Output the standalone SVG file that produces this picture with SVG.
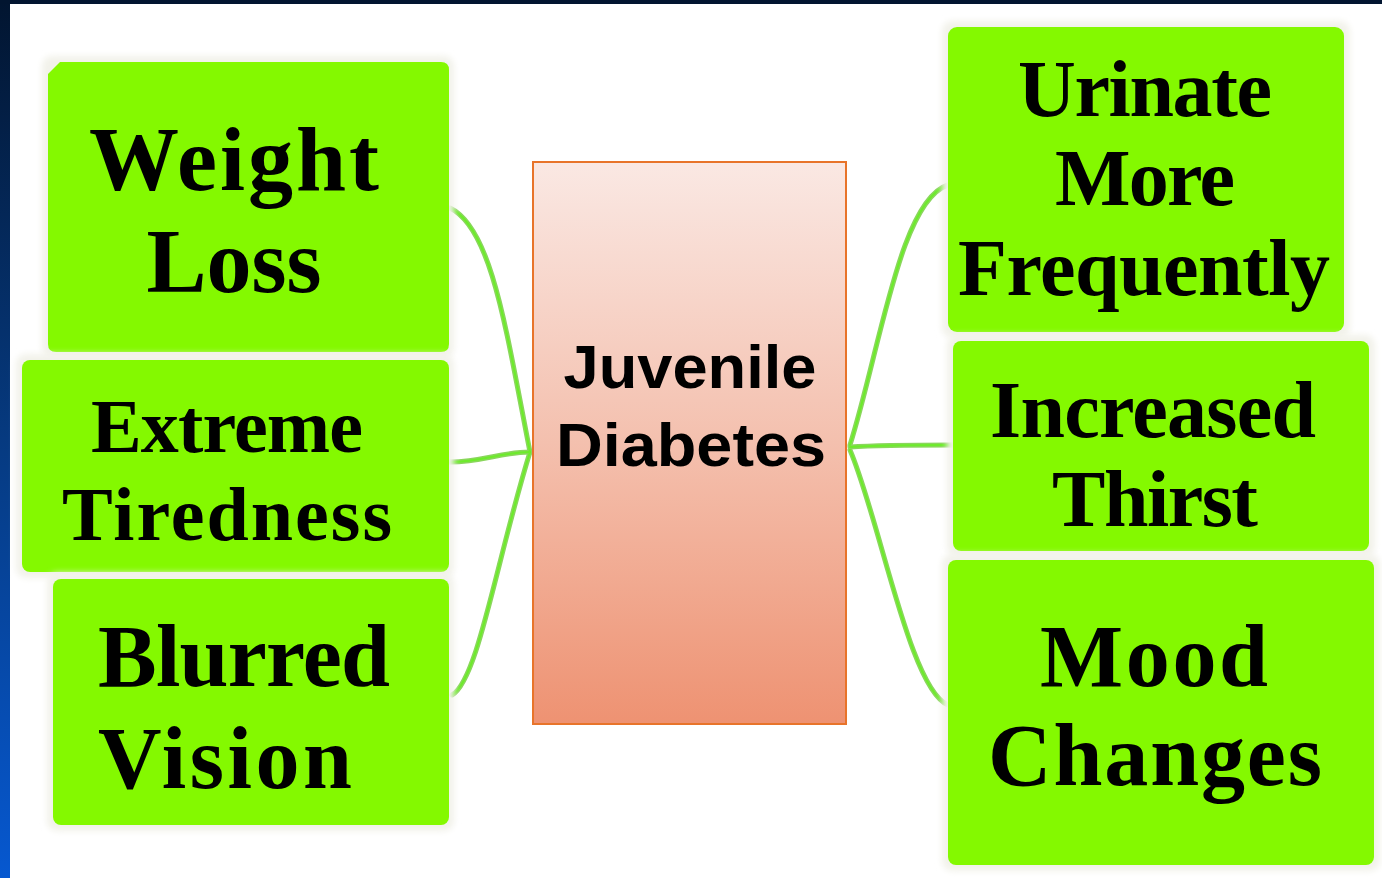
<svg xmlns="http://www.w3.org/2000/svg" width="1382" height="878" viewBox="0 0 1382 878">
<defs>
<linearGradient id="side" x1="0" y1="0" x2="0" y2="1"><stop offset="0" stop-color="#021530"/><stop offset="0.5" stop-color="#063a80"/><stop offset="1" stop-color="#0658d0"/></linearGradient>
<linearGradient id="hub" x1="0" y1="0" x2="0" y2="1"><stop offset="0" stop-color="#fae8e3"/><stop offset="0.5" stop-color="#f4c0ae"/><stop offset="1" stop-color="#ee9272"/></linearGradient>
<filter id="glow" x="-5%" y="-5%" width="110%" height="110%"><feGaussianBlur stdDeviation="3"/></filter>
</defs>
<style>
.box{fill:#84f900}
.shadow{fill:#f2f2ea;filter:url(#glow)}
.t{font-family:"Liberation Serif","Times New Roman",serif;font-weight:bold;fill:#000;text-anchor:middle}
.c{font-family:"Liberation Sans",Arial,sans-serif;font-weight:bold;fill:#000;text-anchor:middle}
.link{fill:none;stroke:#8ad65c;stroke-width:5;stroke-linecap:round}
.linkc{fill:none;stroke:#6cec2a;stroke-width:2;stroke-linecap:round}
</style>
<rect x="0" y="0" width="1382" height="878" fill="#ffffff"/>
<rect x="0" y="0" width="10" height="878" fill="url(#side)"/>
<rect x="0" y="0" width="1382" height="4" fill="#021530"/>
<g id="connectors">
<path class="link" d="M450,208 C492,228 506,330 530,452"/>
<path class="link" d="M450,462 C482,462 502,452 530,452"/>
<path class="link" d="M452,695 C478,680 496,562 530,452"/>
<path class="link" d="M850,445 C880,350 900,200 948,185"/>
<path class="link" d="M850,447 C880,445 920,445 953,445"/>
<path class="link" d="M850,450 C880,520 910,690 948,705"/>
<path class="linkc" d="M450,208 C492,228 506,330 530,452"/>
<path class="linkc" d="M450,462 C482,462 502,452 530,452"/>
<path class="linkc" d="M452,695 C478,680 496,562 530,452"/>
<path class="linkc" d="M850,445 C880,350 900,200 948,185"/>
<path class="linkc" d="M850,447 C880,445 920,445 953,445"/>
<path class="linkc" d="M850,450 C880,520 910,690 948,705"/>
</g>
<g id="weight-loss">
<rect class="shadow" x="42" y="56" width="412" height="302" rx="10"/>
<path class="box" d="M60,62 H441 Q449,62 449,70 V344 Q449,352 441,352 H56 Q48,352 48,344 V74 Z"/>
<text class="t" x="234" y="190" font-size="90" textLength="290">Weight</text>
<text class="t" x="234" y="292" font-size="90">Loss</text>
</g>
<g id="extreme-tiredness">
<rect class="shadow" x="16" y="354" width="438" height="224" rx="10"/>
<rect class="box" x="22" y="360" width="427" height="212" rx="8"/>
<text class="t" x="227" y="452" font-size="76" textLength="272">Extreme</text>
<text class="t" x="227" y="540" font-size="76" textLength="330">Tiredness</text>
</g>
<g id="blurred-vision">
<rect class="shadow" x="47" y="573" width="407" height="258" rx="10"/>
<rect class="box" x="53" y="579" width="396" height="246" rx="8"/>
<text class="t" x="244" y="686" font-size="88" textLength="292">Blurred</text>
<text class="t" x="225" y="788" font-size="88" textLength="254">Vision</text>
</g>
<g id="juvenile-diabetes">
<rect x="533" y="162" width="313" height="562" fill="url(#hub)" stroke="#e8742a" stroke-width="2"/>
<text class="c" x="690" y="388" font-size="62" textLength="253" lengthAdjust="spacingAndGlyphs">Juvenile</text>
<text class="c" x="691" y="466" font-size="62" textLength="270" lengthAdjust="spacingAndGlyphs">Diabetes</text>
</g>
<g id="urinate-more-frequently">
<rect class="shadow" x="942" y="21" width="408" height="317" rx="10"/>
<rect class="box" x="948" y="27" width="396" height="305" rx="9"/>
<text class="t" x="1145" y="116" font-size="80" textLength="254">Urinate</text>
<text class="t" x="1145" y="205" font-size="80" textLength="180">More</text>
<text class="t" x="1144" y="295" font-size="80" textLength="372">Frequently</text>
</g>
<g id="increased-thirst">
<rect class="shadow" x="947" y="335" width="428" height="222" rx="10"/>
<rect class="box" x="953" y="341" width="416" height="210" rx="8"/>
<text class="t" x="1153" y="437" font-size="80" textLength="326">Increased</text>
<text class="t" x="1155" y="526" font-size="80" textLength="206">Thirst</text>
</g>
<g id="mood-changes">
<rect class="shadow" x="942" y="554" width="438" height="317" rx="10"/>
<rect class="box" x="948" y="560" width="426" height="305" rx="8"/>
<text class="t" x="1154" y="686" font-size="88" textLength="228">Mood</text>
<text class="t" x="1155" y="785" font-size="88" textLength="334">Changes</text>
</g>
</svg>
